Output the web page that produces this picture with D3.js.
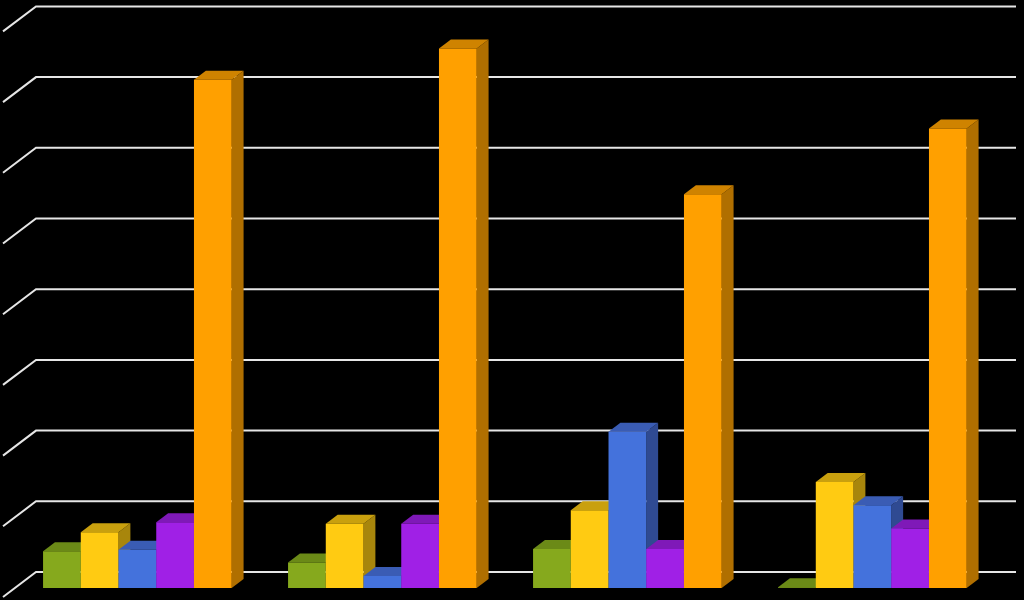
<!DOCTYPE html>
<html>
<head>
<meta charset="utf-8">
<script src="https://cdn.jsdelivr.net/npm/d3@7/dist/d3.min.js"></script>
<style>
  html, body { margin: 0; padding: 0; background: #000; }
  svg { display: block; }
</style>
</head>
<body>
<svg id="chart" width="1024" height="600"></svg>
<script>
// ---- data ----
const categories = ["Group 1", "Group 2", "Group 3", "Group 4"];
const seriesNames = ["Series A", "Series B", "Series C", "Series D", "Series E"];
const seriesA = [5.2, 3.6, 5.5, 0.1];
const seriesB = [7.9, 9.1, 11.0, 15.0];
const seriesC = [5.4, 1.7, 22.1, 11.7];
const seriesD = [9.3, 9.1, 5.5, 8.4];
const seriesE = [71.9, 76.3, 55.7, 65.0];
const tickValues = [0, 10, 20, 30, 40, 50, 60, 70, 80];

const seriesValues = [seriesA, seriesB, seriesC, seriesD, seriesE];
const faceColors = ["#86a91d", "#ffcb12", "#4472dc", "#a020e6", "#ffa000"];
const topColors  = ["#6b8a17", "#c9a00e", "#3a5cb4", "#7f19b8", "#cf8300"];
const sideColors = ["#58721a", "#a8860c", "#2f4a92", "#6a1599", "#b06f00"];

// ---- geometry ----
const svg = d3.select("#chart");
const x0 = 3, y0 = 597;          // floor front-left corner
const depthX = 33, depthY = -25; // full depth vector
const plotW = 980;
const unitH = 70.7;              // px per 10 units
const barFront = 0.36, barBack = 0.72;

const y = d3.scaleLinear().domain([0, 80]).range([0, unitH * 8]);
const xCat = d3.scaleBand().domain(categories).range([0, plotW])
  .paddingInner(0.23).paddingOuter(0.115);
const xSer = d3.scaleBand().domain(seriesNames).range([0, xCat.bandwidth()]);

function pt(xv, v, d) {
  return [x0 + xv + depthX * d, y0 - y(v) + depthY * d];
}

// ---- gridlines (left wall + back wall) ----
const grid = svg.append("g");
tickValues.forEach(t => {
  const a = pt(0, t, 0), b = pt(0, t, 1), c = pt(plotW, t, 1);
  grid.append("polyline")
    .attr("points", [a, b, c].map(p => p.join(",")).join(" "))
    .attr("fill", "none").attr("stroke", "#e6e6e6").attr("stroke-width", 2);
});

// ---- bars ----
const bars = svg.append("g");
categories.forEach((cat, ci) => {
  seriesNames.forEach((s, si) => {
    const v = seriesValues[si][ci];
    const xl = xCat(cat) + xSer(s);
    const xr = xl + xSer.bandwidth();
    const g = bars.append("g");
    const poly = (pts, fill) => g.append("polygon")
      .attr("points", pts.map(p => p.join(",")).join(" "))
      .attr("fill", fill);
    // side face
    poly([pt(xr, 0, barFront), pt(xr, 0, barBack), pt(xr, v, barBack), pt(xr, v, barFront)], sideColors[si]);
    // top face
    poly([pt(xl, v, barFront), pt(xl, v, barBack), pt(xr, v, barBack), pt(xr, v, barFront)], topColors[si]);
    // front face
    poly([pt(xl, 0, barFront), pt(xr, 0, barFront), pt(xr, v, barFront), pt(xl, v, barFront)], faceColors[si]);
  });
});
</script>
</body>
</html>
